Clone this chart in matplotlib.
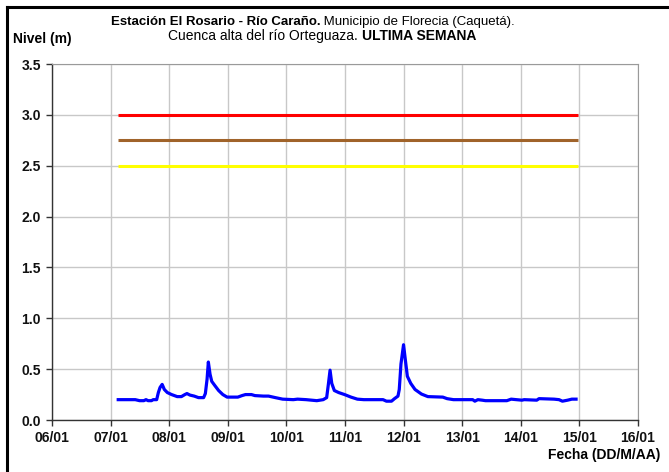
import matplotlib
matplotlib.use("Agg")
import matplotlib.pyplot as plt
from matplotlib.lines import Line2D

# Station level over the last week (day of January, level in metres)
dias = [7.130, 7.421, 7.494, 7.567, 7.604, 7.640, 7.698, 7.727, 7.786, 7.815,
        7.844, 7.880, 7.917, 7.968, 8.041, 8.136, 8.208, 8.267, 8.303, 8.354,
        8.427, 8.500, 8.587, 8.617, 8.646, 8.668, 8.697, 8.726, 8.777, 8.843,
        8.915, 8.988, 9.171, 9.243, 9.302, 9.404, 9.462, 9.608, 9.695, 9.812,
        9.936, 10.118, 10.190, 10.337, 10.519, 10.628, 10.687, 10.716, 10.745, 10.774,
        10.818, 10.891, 10.993, 11.102, 11.211, 11.321, 11.649, 11.707, 11.794, 11.845,
        11.904, 11.926, 11.955, 11.999, 12.028, 12.064, 12.122, 12.195, 12.305, 12.414,
        12.669, 12.742, 12.851, 13.179, 13.216, 13.267, 13.340, 13.398, 13.762, 13.835,
        13.923, 14.020, 14.058, 14.273, 14.311, 14.567, 14.652, 14.710, 14.800, 14.871,
        14.943]
nivel = [0.20, 0.20, 0.19, 0.19, 0.20, 0.19, 0.19, 0.20, 0.20, 0.27,
         0.32, 0.35, 0.30, 0.27, 0.25, 0.23, 0.23, 0.25, 0.26, 0.245,
         0.235, 0.22, 0.22, 0.26, 0.40, 0.57, 0.45, 0.38, 0.34, 0.29,
         0.25, 0.225, 0.225, 0.24, 0.25, 0.25, 0.24, 0.235, 0.235, 0.22,
         0.205, 0.20, 0.205, 0.20, 0.19, 0.20, 0.22, 0.35, 0.49, 0.36,
         0.29, 0.27, 0.25, 0.225, 0.205, 0.20, 0.20, 0.185, 0.185, 0.21,
         0.235, 0.30, 0.55, 0.74, 0.60, 0.43, 0.36, 0.30, 0.255, 0.23,
         0.225, 0.21, 0.20, 0.20, 0.185, 0.20, 0.195, 0.19, 0.19, 0.205,
         0.20, 0.195, 0.20, 0.195, 0.21, 0.205, 0.20, 0.185, 0.195, 0.205,
         0.205]

# Alert thresholds
umbrales = [3.0, 2.75, 2.5]
colores_umbral = ["#FF0000", "#A0632A", "#FFFF00"]
umbral_inicio, umbral_fin = 7.13, 14.98

x_ticks = list(range(6, 17))
x_labels = [f"{d:02d}/01" for d in x_ticks]
y_ticks = [0.0, 0.5, 1.0, 1.5, 2.0, 2.5, 3.0, 3.5]

plt.rcParams["font.family"] = ["Liberation Sans", "DejaVu Sans"]

W, H = 669, 472
fig = plt.figure(figsize=(W / 100, H / 100), dpi=100)
ax = fig.add_axes([52 / W, 1 - 420 / H, (638 - 52) / W, (420 - 64) / H])

for u, c in zip(umbrales, colores_umbral):
    ax.plot([umbral_inicio, umbral_fin], [u, u], color=c, lw=2.2, solid_capstyle="butt", zorder=3)
ax.plot(dias, nivel, color="#0000FF", lw=2.3, zorder=4)

ax.set_xlim(6, 16)
ax.set_ylim(0, 3.5)
ax.set_xticks(x_ticks)
ax.set_xticklabels(x_labels)
ax.set_yticks(y_ticks)
ax.set_yticklabels([f"{v:.1f}" for v in y_ticks])
ax.grid(True, color="#C8C8C8", lw=1.0, zorder=0)
ax.set_axisbelow(True)
for s in ("top", "right"):
    ax.spines[s].set_color("#9A9A9A")
for s in ("left", "bottom"):
    ax.spines[s].set_color("#333333")
    ax.spines[s].set_linewidth(1.0)
ax.tick_params(direction="out", length=4, width=1, color="#333333", pad=4)
for lab in ax.get_xticklabels() + ax.get_yticklabels():
    lab.set_fontweight("bold")
    lab.set_fontsize(10)
    lab.set_color("#111111")

# Frame lines around the figure
fig.add_artist(Line2D([7 / W, 7 / W], [0, 1 - 7 / H], color="black", lw=2.2))
fig.add_artist(Line2D([7 / W, 1], [1 - 7 / H, 1 - 7 / H], color="black", lw=2.2))

fig.text(13 / W, 1 - 38.5 / H, "Nivel (m)", fontsize=10, fontweight="bold", va="center", ha="left")
fig.text(660 / W, 1 - 455 / H, "Fecha (DD/M/AA)", fontsize=10, fontweight="bold", va="center", ha="right")

renderer = fig.canvas.get_renderer()


def mixed_line(parts, y_px, center_x_px, size=10):
    # Draw a line of text made of runs with different weights, centred at center_x_px
    texts = []
    for s, w in parts:
        t = fig.text(0, 1 - y_px / H, s, fontsize=size, fontweight=w, va="center", ha="left")
        texts.append(t)
    widths = [t.get_window_extent(renderer).width for t in texts]
    total = sum(widths)
    x = center_x_px - total / 2
    for t, w in zip(texts, widths):
        t.set_x(x / W)
        x += w


mixed_line([("Estación El Rosario - Río Caraño.", "bold"),
            (" Municipio de Florecia (Caquetá).", "normal")], 22, 313, size=9.5)
mixed_line([("Cuenca alta del río Orteguaza. ", "normal"),
            ("ULTIMA SEMANA", "bold")], 36, 322, size=10)

fig.savefig("out.png", dpi=100)
